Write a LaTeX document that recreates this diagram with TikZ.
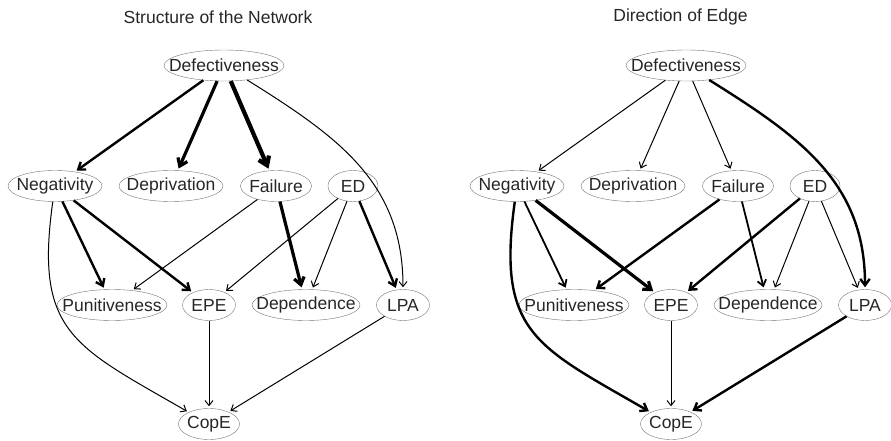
\documentclass[tikz,border=0pt]{standalone}
\usepackage{fontspec}
\setmainfont{Liberation Sans}
\usetikzlibrary{shapes.geometric,arrows.meta}

\tikzset{
  var/.style={ellipse, draw=black!55, inner sep=0pt, minimum height=31pt, text=black!85},
  link/.style={-{Straight Barb[length=4pt 1,width=7pt 1]}, shorten >=2pt},
  heading/.style={text=black!85},
}
\newcommand{\lbl}[1]{\makebox[0pt]{#1}}

\begin{document}
\begin{tikzpicture}[x=1pt,y=1pt,font=\fontsize{17.5}{20}\selectfont]
  \useasboundingbox (0,0) rectangle (891,440);

  % left network: structure
  \node[heading] (ltitle) at (218,423) {Structure of the Network};
  \node[var, minimum width=120pt] (lDef) at (224,374.5) {\lbl{Defectiveness}};
  \node[var, minimum width=94pt] (lNeg) at (55,254) {\lbl{Negativity}};
  \node[var, minimum width=104pt] (lDep) at (171,254) {\lbl{Deprivation}};
  \node[var, minimum width=71pt] (lFail) at (276,254) {\lbl{Failure}};
  \node[var, minimum width=50pt] (lED) at (353,254) {\lbl{ED}};
  \node[var, minimum width=110pt] (lPun) at (112,135) {\lbl{Punitiveness}};
  \node[var, minimum width=53pt] (lEPE) at (209,135) {\lbl{EPE}};
  \node[var, minimum width=108pt] (lDpd) at (306,135) {\lbl{Dependence}};
  \node[var, minimum width=53pt] (lLPA) at (403,135) {\lbl{LPA}};
  \node[var, minimum width=61pt] (lCopE) at (209,16) {\lbl{CopE}};

  \draw[link, line width=2.4pt] (lDef) -- (lNeg);
  \draw[link, line width=3.2pt] (lDef) -- (lDep);
  \draw[link, line width=4.2pt] (lDef) -- (lFail);
  \draw[link, line width=1pt] (lDef) to[out=-32,in=90,looseness=1.05] (lLPA);
  \draw[link, line width=2.4pt] (lNeg) -- (lPun);
  \draw[link, line width=2.4pt] (lNeg) -- (lEPE);
  \draw[link, line width=1pt] (lNeg) to[out=-98,in=150,looseness=1.35] (lCopE);
  \draw[link, line width=1pt] (lFail) -- (lPun);
  \draw[link, line width=3.2pt] (lFail) -- (lDpd);
  \draw[link, line width=1pt] (lED) -- (lEPE);
  \draw[link, line width=1pt] (lED) -- (lDpd);
  \draw[link, line width=2.4pt] (lED) -- (lLPA);
  \draw[link, line width=1pt] (lEPE) -- (lCopE);
  \draw[link, line width=1pt] (lLPA) -- (lCopE);

  % right network: direction
  \begin{scope}[xshift=462pt]
    \node[heading] (rtitle) at (218.5,423) {Direction of Edge};
    \node[var, minimum width=120pt] (rDef) at (224,374.5) {\lbl{Defectiveness}};
    \node[var, minimum width=94pt] (rNeg) at (55,254) {\lbl{Negativity}};
    \node[var, minimum width=104pt] (rDep) at (171,254) {\lbl{Deprivation}};
    \node[var, minimum width=71pt] (rFail) at (276,254) {\lbl{Failure}};
    \node[var, minimum width=50pt] (rED) at (353,254) {\lbl{ED}};
    \node[var, minimum width=110pt] (rPun) at (112,135) {\lbl{Punitiveness}};
    \node[var, minimum width=53pt] (rEPE) at (209,135) {\lbl{EPE}};
    \node[var, minimum width=108pt] (rDpd) at (306,135) {\lbl{Dependence}};
    \node[var, minimum width=53pt] (rLPA) at (403,135) {\lbl{LPA}};
    \node[var, minimum width=61pt] (rCopE) at (209,16) {\lbl{CopE}};

    \draw[link, line width=1pt] (rDef) -- (rNeg);
    \draw[link, line width=1pt] (rDef) -- (rDep);
    \draw[link, line width=1pt] (rDef) -- (rFail);
    \draw[link, line width=2.4pt] (rDef) to[out=-32,in=90,looseness=1.05] (rLPA);
    \draw[link, line width=1.8pt] (rNeg) -- (rPun);
    \draw[link, line width=3.2pt] (rNeg) -- (rEPE);
    \draw[link, line width=2.4pt] (rNeg) to[out=-98,in=150,looseness=1.35] (rCopE);
    \draw[link, line width=2.4pt] (rFail) -- (rPun);
    \draw[link, line width=1.8pt] (rFail) -- (rDpd);
    \draw[link, line width=2.4pt] (rED) -- (rEPE);
    \draw[link, line width=1pt] (rED) -- (rDpd);
    \draw[link, line width=1pt] (rED) -- (rLPA);
    \draw[link, line width=1pt] (rEPE) -- (rCopE);
    \draw[link, line width=2.4pt] (rLPA) -- (rCopE);
  \end{scope}
\end{tikzpicture}
\end{document}
